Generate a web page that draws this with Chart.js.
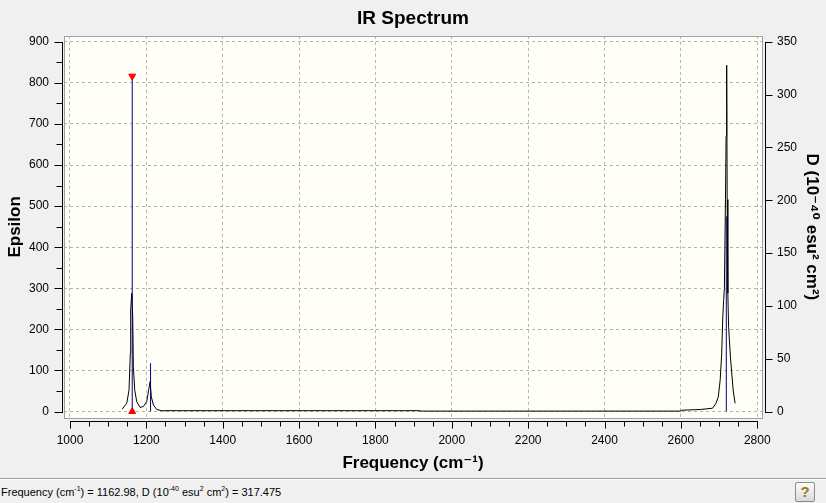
<!DOCTYPE html>
<html lang="en">
<head>
    <meta charset="UTF-8">
    <title>IR Spectrum</title>
    <script src="https://cdn.jsdelivr.net/npm/chart.js"></script>

    <style>
        body {
            margin: 0;
            background-color: #f0f0f0;
            width: 826px;
            height: 503px;
            overflow: hidden;
            font-family: "Liberation Sans", Arial, sans-serif;
        }

        .chart-box {
            position: relative;
            width: 826px;
            height: 478px;
        }

        .status-bar {
            position: relative;
            height: 24px;
            border-top: 1px solid #a0a0a0;
            box-shadow: inset 0 1px 0 #ffffff;
            font-size: 11px;
            color: #000;
        }

        .status-bar .status-text {
            position: absolute;
            left: 1px;
            top: 7px;
            white-space: nowrap;
        }

        .status-bar sup {
            font-size: 7px;
            line-height: 0;
        }

        .help-btn {
            position: absolute;
            left: 795px;
            top: 3px;
            width: 18px;
            height: 18px;
            border: 1px solid #8c8c8c;
            border-radius: 2px;
            background: linear-gradient(#fcfcfc, #dadada);
            color: #9a7a10;
            font-weight: bold;
            font-size: 15px;
            line-height: 18px;
            text-align: center;
        }
    </style>
</head>
<body>

    <div class="chart-box">
        <canvas id="irChart" width="826" height="478"></canvas>
    </div>

    <div class="status-bar">
        <span class="status-text">Frequency (cm<sup>-1</sup>) = 1162.98, D (10<sup>-40</sup> esu<sup>2</sup> cm<sup>2</sup>) = 317.475</span>
        <div class="help-btn">?</div>
    </div>

    <script>
        // broadened spectrum (left axis, epsilon)
        const curveFreq = [1137, 1148.6, 1154.6, 1158, 1159, 1161.7, 1164.3, 1166, 1169.6, 1174.8,
                           1183.6, 1192, 1201, 1206, 1209.8, 1213, 1218.5, 1227, 1240, 1915,
                           1916, 2600, 2601, 2652, 2683, 2692, 2698, 2703, 2707, 2709.5,
                           2712, 2714, 2716.8, 2718.5, 2720, 2721.3, 2723, 2725, 2730, 2737, 2742];
        const curveEps  = [6, 20, 52, 142, 247, 288, 231, 109, 52, 24,
                           10, 12, 24, 52, 73, 36, 16, 5, 2, 2,
                           1, 1, 3, 5, 8, 20, 36, 77, 142, 223,
                           270, 300, 516, 670, 843, 516, 288, 207, 130, 52, 20];

        // stick spectrum (right axis, D in 10^-40 esu^2 cm^2)
        const stickFreq = [1162.98, 1211, 2719];
        const stickD    = [317.475, 45.7, 184.8];

        // selected line marker
        const markerFreq = 1162.98;
        const markerD    = [317.475, 0];

        // tick values
        const xTicks  = [];
        for (let v = 1000; v <= 2800; v += 50) xTicks.push(v);
        const yTicks  = [];
        for (let v = 0; v <= 900; v += 50) yTicks.push(v);
        const y2Ticks = [0, 50, 100, 150, 200, 250, 300, 350];

        const fontFamily = "'Liberation Sans', 'DejaVu Sans', Arial, sans-serif";
        Chart.defaults.color = '#000';
        Chart.defaults.font.family = fontFamily;

        const curveData = curveFreq.map((f, i) => ({ x: f, y: curveEps[i] }));
        const stickData = [];
        stickFreq.forEach((f, i) => {
            stickData.push({ x: f, y: 0 }, { x: f, y: stickD[i] }, { x: f, y: null });
        });
        const markerData = markerD.map(d => ({ x: markerFreq, y: d }));

        function line(ctx, x1, y1, x2, y2) {
            ctx.beginPath();
            ctx.moveTo(x1, y1);
            ctx.lineTo(x2, y2);
            ctx.stroke();
        }

        // plot background, frame, and the detached axis lines with their tick marks
        const axisDecor = {
            id: 'axisDecor',
            beforeDraw(chart) {
                const { ctx, chartArea: a } = chart;
                ctx.save();
                ctx.fillStyle = '#fffff7';
                ctx.fillRect(a.left, a.top, a.right - a.left, a.bottom - a.top);
                ctx.restore();
            },
            afterDraw(chart) {
                const { ctx, chartArea: a, scales } = chart;
                const L = Math.round(a.left), R = Math.round(a.right);
                const T = Math.round(a.top), B = Math.round(a.bottom);
                ctx.save();
                ctx.lineWidth = 1;
                ctx.strokeStyle = '#a0a0a0';
                ctx.strokeRect(L + 0.5, T + 0.5, R - L, B - T);

                ctx.strokeStyle = '#000';
                // bottom axis
                const xs = scales.x;
                const xa = B + 3.5;
                line(ctx, Math.round(xs.getPixelForValue(xTicks[0])), xa,
                     Math.round(xs.getPixelForValue(xTicks[xTicks.length - 1])) + 1, xa);
                xTicks.forEach(v => {
                    const px = Math.round(xs.getPixelForValue(v)) + 0.5;
                    line(ctx, px, xa, px, xa + (v % 200 === 0 ? 7 : 5));
                });

                // left axis
                const ys = scales.y;
                const ya = L - 1.5;
                line(ctx, ya, Math.round(ys.getPixelForValue(yTicks[yTicks.length - 1])),
                     ya, Math.round(ys.getPixelForValue(0)) + 1);
                yTicks.forEach(v => {
                    const py = Math.round(ys.getPixelForValue(v)) + 0.5;
                    line(ctx, ya, py, ya - (v % 100 === 0 ? 8 : 6), py);
                });

                // right axis
                const y2s = scales.y2;
                const y2a = R + 3.5;
                line(ctx, y2a, Math.round(y2s.getPixelForValue(350)),
                     y2a, Math.round(y2s.getPixelForValue(0)) + 1);
                y2Ticks.forEach(v => {
                    const py = Math.round(y2s.getPixelForValue(v)) + 0.5;
                    line(ctx, y2a, py, y2a + 7, py);
                });
                ctx.restore();
            }
        };

        const gridDash = '#b4b4b4';

        new Chart(document.getElementById('irChart'), {
            type: 'line',
            data: {
                datasets: [
                    {
                        type: 'scatter',
                        data: markerData,
                        yAxisID: 'y2',
                        pointStyle: 'triangle',
                        rotation: [180, 0],
                        radius: 4,
                        backgroundColor: '#ff0000',
                        borderColor: '#ff0000',
                        borderWidth: 1,
                        order: 0
                    },
                    {
                        data: stickData,
                        yAxisID: 'y2',
                        borderColor: '#00007f',
                        borderWidth: 1,
                        pointRadius: 0,
                        spanGaps: false,
                        order: 1
                    },
                    {
                        data: curveData,
                        yAxisID: 'y',
                        borderColor: '#000',
                        borderWidth: 1,
                        pointRadius: 0,
                        tension: 0,
                        order: 2
                    }
                ]
            },
            options: {
                responsive: false,
                animation: false,
                layout: { padding: 0 },
                plugins: {
                    legend: { display: false },
                    tooltip: { enabled: false },
                    title: {
                        display: true,
                        text: 'IR Spectrum',
                        font: { size: 19, weight: 'bold' },
                        padding: { top: 7, bottom: 6 }
                    }
                },
                scales: {
                    x: {
                        type: 'linear',
                        position: 'bottom',
                        min: 984.3,
                        max: 2812.5,
                        bounds: 'data',
                        afterFit: s => { s.height = 60; },
                        afterBuildTicks: s => { s.ticks = xTicks.map(v => ({ value: v })); },
                        ticks: {
                            autoSkip: false,
                            maxRotation: 0,
                            padding: 15,
                            font: { size: 12 },
                            callback: v => (v % 200 === 0 ? String(v) : '')
                        },
                        grid: {
                            drawTicks: false,
                            color: c => (c.tick && c.tick.value % 200 === 0 ? gridDash : 'transparent')
                        },
                        border: { display: false, dash: [3, 3] },
                        title: {
                            display: true,
                            text: 'Frequency (cm\u207B\u00B9)',
                            font: { size: 17, weight: 'bold' },
                            padding: { top: 5 }
                        }
                    },
                    y: {
                        type: 'linear',
                        position: 'left',
                        min: -15.8,
                        max: 914.6,
                        bounds: 'data',
                        afterFit: s => { s.width = 64; },
                        afterBuildTicks: s => { s.ticks = yTicks.map(v => ({ value: v })); },
                        ticks: {
                            autoSkip: false,
                            padding: 15,
                            font: { size: 12 },
                            callback: v => (v % 100 === 0 ? String(v) : '')
                        },
                        grid: {
                            drawTicks: false,
                            color: c => (c.tick && c.tick.value % 100 === 0 ? gridDash : 'transparent')
                        },
                        border: { display: false, dash: [3, 3] },
                        title: {
                            display: true,
                            text: 'Epsilon',
                            font: { size: 17, weight: 'bold' },
                            padding: { top: 5 }
                        }
                    },
                    y2: {
                        type: 'linear',
                        position: 'right',
                        min: -15.8 * 350 / 900,
                        max: 914.6 * 350 / 900,
                        bounds: 'data',
                        afterFit: s => { s.width = 64; },
                        afterBuildTicks: s => { s.ticks = y2Ticks.map(v => ({ value: v })); },
                        ticks: {
                            autoSkip: false,
                            padding: 15,
                            font: { size: 12 }
                        },
                        grid: { drawTicks: false, drawOnChartArea: false },
                        border: { display: false },
                        title: {
                            display: true,
                            text: 'D (10\u207B\u2074\u2070 esu\u00B2 cm\u00B2)',
                            font: { size: 17, weight: 'bold' },
                            padding: { top: 4 }
                        }
                    }
                }
            },
            plugins: [axisDecor]
        });
    </script>

</body>
</html>
